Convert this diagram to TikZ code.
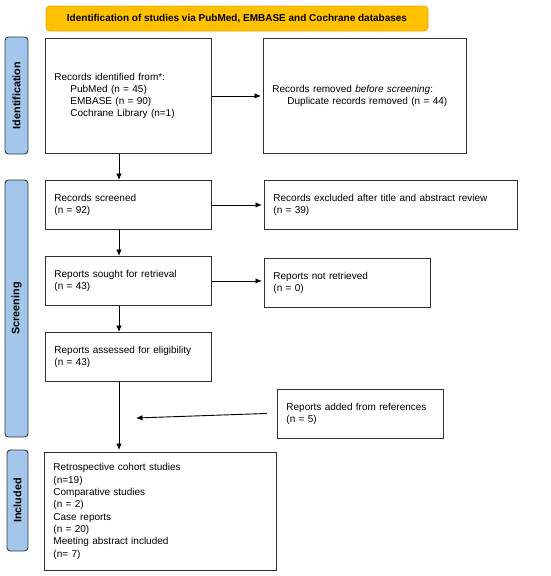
\documentclass[tikz,border=0pt]{standalone}
\usepackage{fontspec}
\setmainfont{Liberation Sans}
\usetikzlibrary{arrows.meta}
\definecolor{bannerfill}{HTML}{FFC000}
\definecolor{bannerdraw}{HTML}{E3A900}
\definecolor{sidefill}{HTML}{A3C6EA}
\definecolor{sidedraw}{HTML}{2E3A48}
\definecolor{boxdraw}{HTML}{303030}
\tikzset{
  x=1pt, y=-1pt,
  box/.style={draw=boxdraw, line width=0.9pt, anchor=north west, align=left,
    inner xsep=9pt, inner ysep=0pt, font=\fontsize{10}{12}\selectfont},
  side/.style={draw=sidedraw, fill=sidefill, line width=0.9pt, rounded corners=3.5pt,
    rotate=90, inner sep=0pt, font=\fontsize{10.8}{12}\selectfont\bfseries},
  banner/.style={draw=bannerdraw, fill=bannerfill, line width=0.8pt, rounded corners=4pt,
    inner sep=0pt, font=\fontsize{10}{11}\selectfont\bfseries},
  arr/.style={-{Latex[length=6.5pt,width=5.5pt]}, line width=0.9pt, draw=black}
}
\begin{document}
\begin{tikzpicture}
\useasboundingbox (0,0) rectangle (550,576);
\fill[white] (0,0) rectangle (550,576);

\node[banner, minimum width=382pt, minimum height=25pt] (ban) at (237,18.5)
  {Identification of studies via PubMed, EMBASE and Cochrane databases};

\node[side, minimum width=117pt, minimum height=23pt] (sid) at (16.5,95.5) {Identification};
\node[side, minimum width=257pt, minimum height=23pt] (sscr) at (16.5,308.5) {Screening};
\node[side, minimum width=101pt, minimum height=21pt] (sinc) at (17.5,500.5) {Included};

\node[box, text width=148pt, minimum height=115pt] (b1) at (45,38)
  {Records identified from*:\\
   \hspace*{16pt}PubMed (n = 45)\\
   \hspace*{16pt}EMBASE (n = 90)\\
   \hspace*{16pt}Cochrane Library (n=1)};
\node[box, text width=185pt, minimum height=115pt] (b2) at (263,38)
  {Records removed \textit{before screening}:\\
   \hspace*{15pt}Duplicate records removed (n = 44)};

\node[box, text width=148pt, minimum height=49pt] (b3) at (45,180)
  {Records screened\\(n = 92)};
\node[box, text width=235pt, minimum height=49pt] (b4) at (264,180)
  {Records excluded after title and abstract review\\(n = 39)};

\node[box, text width=148pt, minimum height=49pt] (b5) at (45,256)
  {Reports sought for retrieval\\(n = 43)};
\node[box, text width=148pt, minimum height=49pt] (b6) at (264,258)
  {Reports not retrieved\\(n = 0)};

\node[box, text width=148pt, minimum height=49pt] (b7) at (45,332)
  {Reports assessed for eligibility\\(n = 43)};

\node[box, text width=148pt, minimum height=49pt] (b8) at (277,389)
  {Reports added from references\\(n = 5)};

\node[box, text width=214pt, minimum height=118pt, font=\fontsize{10}{12.3}\selectfont] (b9) at (44,452)
  {Retrospective cohort studies\\(n=19)\\Comparative studies\\(n = 2)\\Case reports\\(n = 20)\\Meeting abstract included\\(n= 7)};

\coordinate (m) at (136,418);

\draw[arr, shorten >=2pt] (b1.east) -- (b1.east -| b2.west);
\draw[arr, shorten >=2pt] (b3.east) -- (b3.east -| b4.west);
\draw[arr, shorten >=2pt] (b5.east) -- (b5.east -| b6.west);

\draw[arr] ([xshift=74pt]b1.south west) -- ([xshift=74pt]b3.north west);
\draw[arr] ([xshift=74pt]b3.south west) -- ([xshift=74pt]b5.north west);
\draw[arr] ([xshift=74pt]b5.south west) -- ([xshift=74pt]b7.north west);
\draw[arr, shorten >=2pt] ([xshift=74pt]b7.south west) -- ([xshift=75pt]b9.north west);
\draw[arr] ([xshift=-10pt,yshift=0.5pt]b8.west) -- (m);
\end{tikzpicture}
\end{document}
